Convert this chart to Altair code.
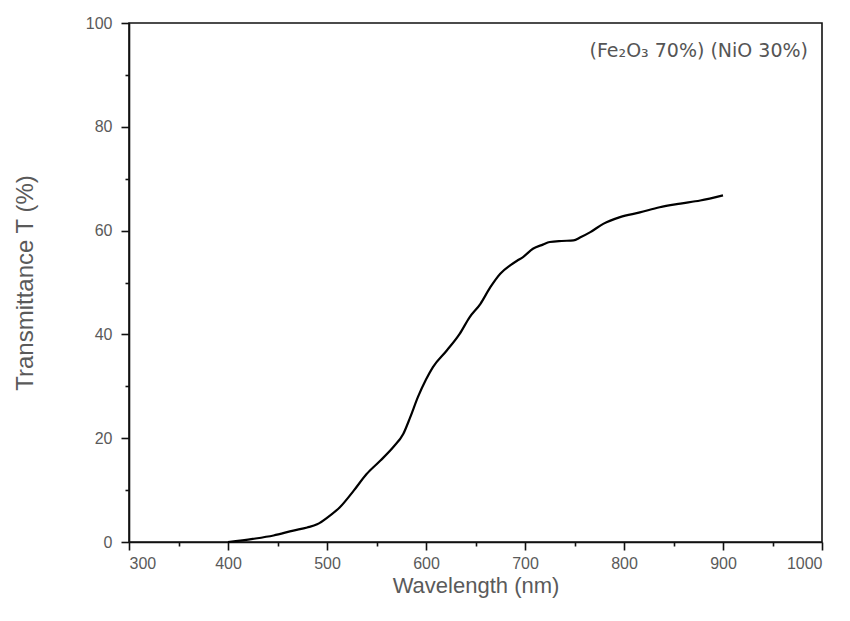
import altair as alt
import pandas as pd

wavelength = [400, 425, 446, 466, 480, 490, 501, 513, 527, 540, 554, 567, 577, 584, 592, 600, 607,
              621, 634, 644, 655, 665, 675, 685, 692, 698, 708, 718, 725, 737, 749, 756,
              766, 779, 796, 816, 836, 857, 877, 900]
transmittance = [0.0, 0.6, 1.25, 2.2, 2.8, 3.4, 4.8, 6.7, 9.9, 13.1, 15.7, 18.3, 20.8, 24.0, 28.0, 31.3, 33.7,
                 36.9, 40.1, 43.3, 45.9, 49.1, 51.7, 53.3, 54.2, 54.9, 56.5, 57.3, 57.8, 58.0, 58.1, 58.7,
                 59.7, 61.3, 62.6, 63.5, 64.5, 65.2, 65.8, 66.8]

x_major = [300, 400, 500, 600, 700, 800, 900, 1000]
x_minor = [350, 450, 550, 650, 750, 850, 950]
y_major = [0, 20, 40, 60, 80, 100]
y_minor = [10, 30, 50, 70, 90]
annotation = ["(Fe₂O₃ 70%) (NiO 30%)"]

df = pd.DataFrame({"wl": wavelength, "T": transmittance})

label_font = "Liberation Sans"
title_font = "Liberation Sans"
axis_color = "#111111"
label_color = "#5a5a5a"

xscale = alt.Scale(domain=[300, 1000], nice=False, zero=False)
yscale = alt.Scale(domain=[0, 100], nice=False)

line = alt.Chart(df).mark_line(color="#000000", strokeWidth=2.2, interpolate="monotone").encode(
    x=alt.X("wl:Q", scale=xscale,
            axis=alt.Axis(values=x_major, format="d", title="Wavelength (nm)", grid=False,
                          domainColor=axis_color, domainWidth=1.6,
                          tickColor=axis_color, tickWidth=1.6, tickSize=8,
                          labelFont=label_font, labelFontSize=16, labelColor=label_color,
                          labelPadding=5,
                          titleFont=title_font, titleFontSize=22, titleFontWeight="normal",
                          titleColor=label_color, titlePadding=4)),
    y=alt.Y("T:Q", scale=yscale,
            axis=alt.Axis(values=y_major, title="Transmittance T (%)", grid=False,
                          domainColor=axis_color, domainWidth=1.6,
                          tickColor=axis_color, tickWidth=1.6, tickSize=8,
                          labelFont=label_font, labelFontSize=16, labelColor=label_color,
                          labelPadding=9,
                          titleFont=title_font, titleFontSize=24, titleFontWeight="normal",
                          titleColor=label_color, titlePadding=48)),
)

minor = alt.Chart(df).mark_line(opacity=0).encode(
    x=alt.X("wl:Q", scale=xscale,
            axis=alt.Axis(values=x_minor, orient="bottom", labels=False, domain=False, grid=False,
                          title=None, tickColor=axis_color, tickWidth=1.6, tickSize=4)),
    y=alt.Y("T:Q", scale=yscale,
            axis=alt.Axis(values=y_minor, orient="left", labels=False, domain=False, grid=False,
                          title=None, tickColor=axis_color, tickWidth=1.6, tickSize=4)),
)

ann = alt.Chart(pd.DataFrame({"t": annotation})).mark_text(
    align="right", baseline="middle", font="DejaVu Sans", fontSize=19, color="#555555"
).encode(x=alt.value(679), y=alt.value(28), text="t:N")

chart = alt.layer(line, minor, ann).resolve_axis(x="independent", y="independent").properties(
    width=693, height=519,
    autosize=alt.AutoSizeParams(type="none"),
    padding={"left": 121, "top": 15, "right": 12, "bottom": 70},
    background="white",
).configure_view(stroke=axis_color, strokeWidth=1.6)

chart.save("out.html", embed_options={"renderer": "svg", "actions": False})
